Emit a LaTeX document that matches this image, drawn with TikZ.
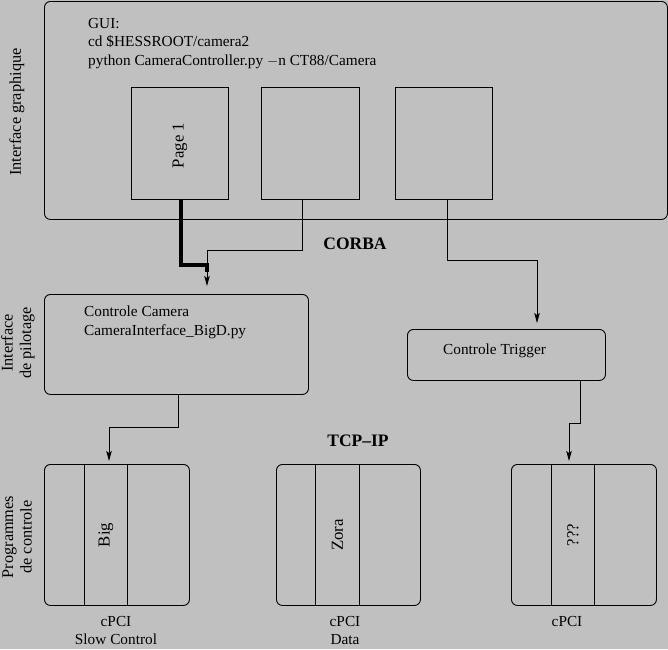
\documentclass[tikz,border=0pt]{standalone}
\usepackage{fontspec}
\setmainfont{Liberation Serif}
\usetikzlibrary{arrows.meta}
\definecolor{bg}{RGB}{192,192,192}
\begin{document}
\begin{tikzpicture}[x=1pt,y=-1pt,
  every node/.style={font=\fontsize{15.3}{18.5}\selectfont, inner sep=0pt},
  rbox/.style={draw, line width=0.9pt, rounded corners=6pt, anchor=north west},
  sbox/.style={draw, line width=0.9pt, anchor=north west},
  col/.style={draw, line width=0.9pt, anchor=north west},
  conn/.style={line width=0.9pt},
  arr/.style={line width=0.9pt, -{Stealth[length=10pt,width=5.5pt,inset=2pt]}},
  heavy/.style={line width=4pt},
  bold/.style={font=\fontsize{17.5}{20}\selectfont\bfseries},
  rot/.style={rotate=90, font=\fontsize{16.8}{19}\selectfont},
  side/.style={rotate=90, align=center, font=\fontsize{16.3}{18.5}\selectfont}]
\fill[bg] (0,0) rectangle (668,649);
\useasboundingbox (0,0) rectangle (668,649);
% GUI
\node[rbox, minimum width=623pt, minimum height=218pt] (gui) at (44,1) {};
\node[anchor=north west, align=left] (guitxt) at (88,18) {GUI:\\cd \$HESSROOT/camera2\\python CameraController.py $-$n CT88/Camera};
\node[sbox, minimum width=97pt, minimum height=112pt] (p1) at (131,87) {};
\node[sbox, minimum width=98pt, minimum height=112pt] (p2) at (261,87) {};
\node[sbox, minimum width=97pt, minimum height=112pt] (p3) at (395,87) {};
\node[rot] (p1t) at ([yshift=-2pt]p1.center) {Page 1};
\node[side] (lab1) at (17,112) {Interface graphique};
% middle
\node[bold] (corba) at (355,244) {CORBA};
\node[rbox, minimum width=264pt, minimum height=100pt] (cc) at (44,294) {};
\node[anchor=north west, align=left] (cctxt) at (84,306) {Controle Camera\\CameraInterface\_BigD.py};
\node[side] (lab2) at (18,343) {Interface\\de pilotage};
\node[rbox, minimum width=198pt, minimum height=51pt] (ct) at (407,329) {};
\node[anchor=west] (cttxt) at (443,351) {Controle Trigger};
\node[bold] (tcp) at (358,441) {TCP\textendash IP};
% bottom
\node[rbox, minimum width=145pt, minimum height=141pt] (b1) at (44,464) {};
\node[col, minimum width=43pt, minimum height=141pt] (c1) at (84,464) {};
\node[rbox, minimum width=144pt, minimum height=141pt] (b2) at (276,464) {};
\node[col, minimum width=44pt, minimum height=141pt] (c2) at (315,464) {};
\node[rbox, minimum width=145pt, minimum height=141pt] (b3) at (511,464) {};
\node[col, minimum width=43pt, minimum height=141pt] (c3) at (551,464) {};
\node[rot] (t1) at (c1.center) {Big};
\node[rot] (t2) at (c2.center) {Zora};
\node[rot] (t3) at (c3.center) {???};
\node[side] (lab3) at (17,537) {Programmes\\de controle};
\node[align=center, anchor=north] (u1) at (116,616) {cPCI\\Slow Control};
\node[align=center, anchor=north] (u2) at (345,616) {cPCI\\Data};
\node[align=center, anchor=north] (u3) at (567,616) {cPCI};
% connectors
\coordinate (j1) at (207,265);
\coordinate (j2) at (207,250);
\draw[heavy] (p1.south -| 181,0) -- (181,265) -- (j1) -- (207,272);
\draw[conn] ([xshift=-8pt]p2.south) |- (j2);
\draw[arr, shorten >=8pt] (j2) -- (cc.north -| j2);
\coordinate (j3) at (537,260);
\draw[conn] ([xshift=3pt]p3.south) |- (j3);
\draw[arr, shorten >=6pt] (j3) -- (ct.north -| j3);
\coordinate (j4) at (109,427);
\draw[conn] ([xshift=2pt]cc.south) |- (j4);
\draw[arr, shorten >=3pt] (j4) -- (b1.north -| j4);
\coordinate (j5) at (569,423);
\draw[conn] ([xshift=74pt]ct.south) |- (j5);
\draw[arr, shorten >=3pt] (j5) -- (b3.north -| j5);
\end{tikzpicture}
\end{document}
